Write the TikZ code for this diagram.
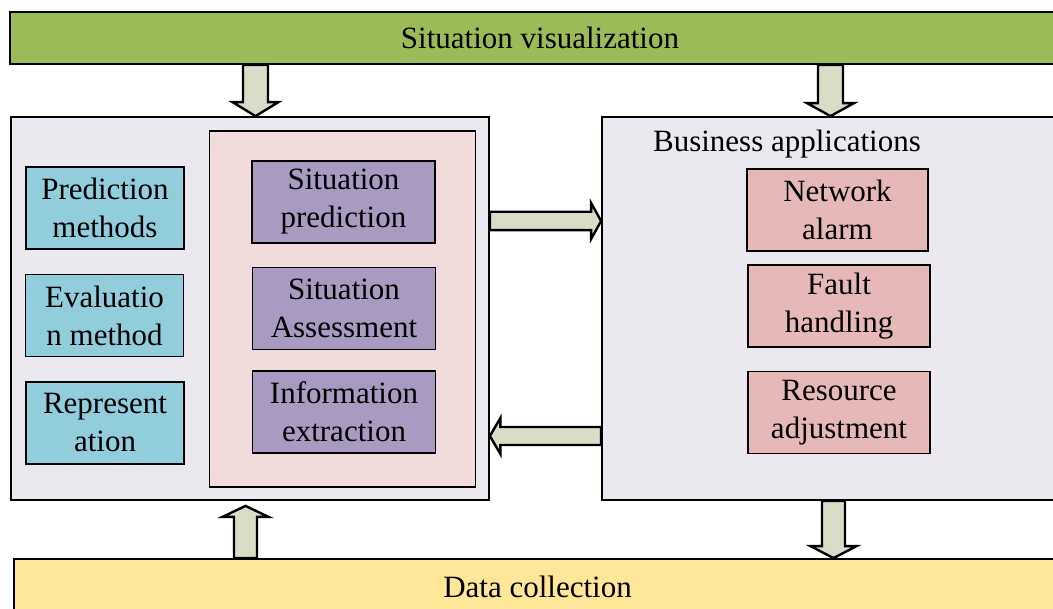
\documentclass[tikz,border=0pt]{standalone}
\usepackage{fontspec}
\setmainfont{Liberation Serif}
\usetikzlibrary{calc}
\definecolor{cgreen}{HTML}{9BBB59}
\definecolor{cyellow}{HTML}{FFE699}
\definecolor{clav}{HTML}{EBE8F0}
\definecolor{cpinkin}{HTML}{F2DCDB}
\definecolor{cpurple}{HTML}{A99AC1}
\definecolor{ccyan}{HTML}{92CDDC}
\definecolor{crose}{HTML}{E6B9B8}
\definecolor{carrow}{HTML}{D9DDC8}
\newcommand{\fatarrow}[5]{%
  \coordinate (tmphb) at ($(#2)!#5!(#1)$);
  \draw[arrowshape] ($(#1)!#3!90:(#2)$) -- ($(tmphb)!#3!90:(#2)$) -- ($(tmphb)!#4!90:(#2)$)
    -- (#2) -- ($(tmphb)!#4!-90:(#2)$) -- ($(tmphb)!#3!-90:(#2)$) -- ($(#1)!#3!-90:(#2)$) -- cycle;}
\begin{document}
\begin{tikzpicture}[x=1pt,y=-1pt,
  every node/.style={font=\fontsize{31}{38}\selectfont, inner sep=0pt},
  box/.style={draw=black, line width=1.8pt, align=center},
  arrowshape/.style={draw=black, fill=carrow, line width=2.4pt, line join=miter},
  smallbox/.style={box, minimum width=158pt, minimum height=82pt}]
\useasboundingbox (0,0) rectangle (1053,609);
% bars
\node[box, fill=cgreen, minimum width=1060pt, minimum height=52pt] (vis) at (540,38) {Situation visualization};
\node[box, fill=cyellow, minimum width=1047pt, minimum height=56pt] (data) at (537.5,587) {Data collection};
% left block
\node[box, fill=clav, minimum width=478pt, minimum height=383pt] (left) at (250,308.5) {};
\node[box, fill=cpinkin, minimum width=266pt, minimum height=356pt] (inner) at (342.5,309) {};
\node[smallbox, fill=ccyan] (pm) at (105,208) {Prediction\\methods};
\node[smallbox, fill=ccyan] (em) at (104.5,315.5) {Evaluatio\\n method};
\node[smallbox, fill=ccyan] (rep) at (105,423) {Represent\\ation};
\node[smallbox, fill=cpurple, minimum width=183pt] (sp) at (343.5,202) {Situation\\prediction};
\node[smallbox, fill=cpurple, minimum width=183pt] (sa) at (344,308.5) {Situation\\Assessment};
\node[smallbox, fill=cpurple, minimum width=183pt] (ie) at (344,412) {Information\\extraction};
% right block
\node[box, fill=clav, minimum width=458pt, minimum height=383pt] (right) at (831,308.5) {};
\node (ba) at (787,144) {Business applications};
\node[smallbox, fill=crose, minimum width=181pt] (na) at (837.5,210) {Network\\alarm};
\node[smallbox, fill=crose, minimum width=182pt] (fh) at (839,306) {Fault\\handling};
\node[smallbox, fill=crose, minimum width=182pt] (ra) at (839,412.5) {Resource\\adjustment};
% connector end points
\coordinate (a1s) at (vis.south -| 255.5,0);
\coordinate (a1e) at (left.north -| 255.5,0);
\coordinate (a2s) at (vis.south -| 830.5,0);
\coordinate (a2e) at (right.north -| 830.5,0);
\coordinate (a3s) at (left.east |- 0,221);
\coordinate (a3e) at (right.west |- 0,221);
\coordinate (a4s) at (right.west |- 0,436);
\coordinate (a4e) at (left.east |- 0,436);
\coordinate (a5s) at (data.north -| 245.5,0);
\coordinate (a5e) at ($(left.south -| 245.5,0)+(0,5)$);
\coordinate (a6s) at (right.south -| 833.5,0);
\coordinate (a6e) at (data.north -| 833.5,0);
\fatarrow{a1s}{a1e}{12.5pt}{23pt}{14pt}
\fatarrow{a2s}{a2e}{12.5pt}{23.5pt}{13pt}
\fatarrow{a3s}{a3e}{9.2pt}{18pt}{10pt}
\fatarrow{a4s}{a4e}{9pt}{18pt}{10.5pt}
\fatarrow{a5s}{a5e}{11.5pt}{23pt}{11pt}
\fatarrow{a6s}{a6e}{11.5pt}{23pt}{12pt}
\end{tikzpicture}
\end{document}
